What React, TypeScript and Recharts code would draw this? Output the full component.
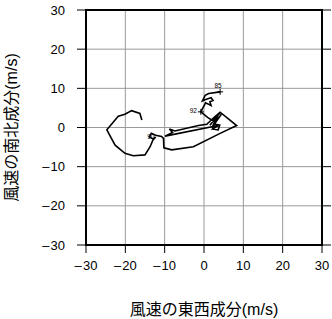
import { CartesianGrid, Label, Scatter, ScatterChart, XAxis, YAxis } from "recharts";

const AXIS_TICKS = [-30, -20, -10, 0, 10, 20, 30];

// hodograph trace, eastward (u) and northward (v) wind in m/s
const U_WIND = [
  4.1, 1.2, 0.3, -0.4, 0.6, 1.8, 2.3, 1.5, 1.8, 0.4, -0.8, 0.9, 2.3, 4.0, 1.5,
  3.6, 2.0, 4.4, 2.6, 4.0, 3.6, 2.2, 3.6, -9.9, -8.0, -8.8, -7.4, -1.4, 0.7,
  2.8, 4.1, 6.6, 8.3, 4.1, -2.7, -8.2, -10.2, -10.3, -10.8, -12.3, -13.4,
  -13.9, -12.8, -12.3, -12.9, -13.7, -15.0, -18.0, -20.1, -22.6, -24.7, -21.8,
  -20.1, -18.4, -16.3, -15.8,
];
const V_WIND = [
  9.1, 8.7, 8.2, 6.8, 7.2, 7.6, 6.9, 6.6, 5.6, 6.3, 4.0, 2.6, 1.7, 3.7, 0.6,
  3.2, -0.1, 3.4, 0.9, 0.6, -0.6, -0.4, 0.5, -2.2, -1.3, -0.4, -0.9, 0.5, 0.8,
  2.8, 3.9, 1.9, 0.5, -1.5, -4.9, -5.7, -5.2, -2.8, -2.3, -2.0, -1.5, -2.4,
  -3.0, -2.4, -3.0, -4.9, -7.0, -7.2, -6.6, -4.5, -0.6, 2.9, 3.4, 4.3, 3.6, 1.9,
];

const MARK_LABELS = ["85", "92", "90"];
const MARK_U = [4.1, -0.8, -13.4];
const MARK_V = [9.1, 4.0, -1.5];

const trace = U_WIND.map((u, i) => ({ u, v: V_WIND[i] }));
const marks = MARK_LABELS.map((label, i) => ({ label, u: MARK_U[i], v: MARK_V[i] }));

const LABEL_OFFSETS = [
  { dx: -2, dy: -6, cross: true },
  { dx: -7.5, dy: -1.5, cross: true },
  { dx: -0.5, dy: 3.5, cross: false },
];

const fmt = (v: number) => (v < 0 ? `\u2013\u200A${Math.abs(v)}` : `${v}`);
const blank = () => "";

const tickFont = { fontSize: 13, fill: "#000", fontFamily: "'Liberation Sans', Arial, sans-serif" };
const titleFont = "'Liberation Sans', 'Noto Sans CJK JP', sans-serif";
const frame = { stroke: "#000", strokeWidth: 2, strokeLinecap: "square" as const };

function MarkShape(props: any) {
  const { cx, cy, index, payload } = props;
  const off = LABEL_OFFSETS[index] ?? { dx: 0, dy: -5, cross: true };
  return (
    <g>
      {off.cross && (
        <g stroke="#000" strokeWidth={1}>
          <line x1={cx - 3} y1={cy} x2={cx + 3} y2={cy} />
          <line x1={cx} y1={cy - 3} x2={cx} y2={cy + 3} />
        </g>
      )}
      <text
        x={cx + off.dx}
        y={cy + off.dy}
        textAnchor="middle"
        dominantBaseline="central"
        fontSize={6.5}
        fontFamily="'Liberation Sans', Arial, sans-serif"
        fill="#000"
      >
        {payload.label}
      </text>
    </g>
  );
}

export default function App() {
  return (
    <div style={{ width: 332, height: 319 }}>
      <style>{"body{margin:0}"}</style>
      <ScatterChart width={332} height={319} margin={{ top: 9, right: 9, bottom: 0, left: 0 }}>
        <CartesianGrid stroke="#9a9a9a" strokeWidth={1} />
        <XAxis
          type="number"
          dataKey="u"
          domain={[-30, 30]}
          ticks={AXIS_TICKS}
          allowDataOverflow
          interval={0}
          tickFormatter={fmt}
          tick={tickFont}
          tickSize={8}
          tickMargin={8}
          tickLine={{ stroke: "#000" }}
          axisLine={frame}
          height={74}
        >
          <Label
            value="風速の東西成分(m/s)"
            position="insideBottom"
            offset={4}
            style={{ fontSize: 16, fill: "#000", fontFamily: titleFont }}
          />
        </XAxis>
        <XAxis
          xAxisId="top"
          orientation="top"
          type="number"
          domain={[-30, 30]}
          ticks={AXIS_TICKS}
          allowDataOverflow
          interval={0}
          tickFormatter={blank}
          tickSize={9}
          tickLine={{ stroke: "#000" }}
          axisLine={frame}
          height={1}
        />
        <YAxis
          type="number"
          dataKey="v"
          domain={[-30, 30]}
          ticks={AXIS_TICKS}
          allowDataOverflow
          interval={0}
          tickFormatter={fmt}
          tick={tickFont}
          tickSize={9}
          tickMargin={12}
          tickLine={{ stroke: "#000" }}
          axisLine={frame}
          width={86}
        >
          <Label
            value="風速の南北成分(m/s)"
            angle={-90}
            position="insideLeft"
            offset={11}
            style={{ fontSize: 16, fill: "#000", fontFamily: titleFont, textAnchor: "middle" }}
          />
        </YAxis>
        <YAxis
          yAxisId="right"
          orientation="right"
          type="number"
          domain={[-30, 30]}
          ticks={AXIS_TICKS}
          allowDataOverflow
          interval={0}
          tickFormatter={blank}
          tickSize={9}
          tickLine={{ stroke: "#000" }}
          axisLine={frame}
          width={1}
        />
        <Scatter
          data={trace}
          line={{ stroke: "#000", strokeWidth: 1.6 }}
          shape={() => <g />}
          isAnimationActive={false}
        />
        <Scatter data={marks} shape={MarkShape} isAnimationActive={false} />
      </ScatterChart>
    </div>
  );
}
